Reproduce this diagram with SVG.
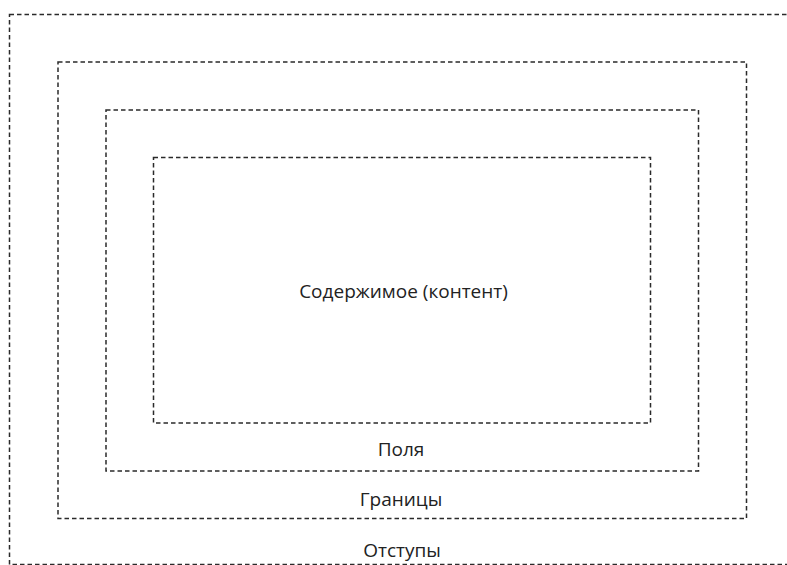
<svg xmlns="http://www.w3.org/2000/svg" width="787" height="565" viewBox="0 0 787 565">
<style>
.box{fill:none;stroke:#2a2a2a;stroke-width:1.5;stroke-dasharray:4.5 3}
.lbl{font-family:"Open Sans","Noto Sans",sans-serif;font-size:19px;fill:#222;text-anchor:middle}
</style>
<rect width="787" height="565" fill="#fff"/>
<g id="margin">
<rect class="box" x="9.5" y="14.5" width="790" height="550"/>
<text class="lbl" x="402" y="557">Отступы</text>
</g>
<g id="border">
<rect class="box" x="58" y="62" width="688.5" height="456.5"/>
<text class="lbl" x="401" y="506">Границы</text>
</g>
<g id="padding">
<rect class="box" x="106" y="110" width="592.5" height="361"/>
<text class="lbl" x="401" y="456">Поля</text>
</g>
<g id="content">
<rect class="box" x="153.5" y="157.5" width="497" height="265.5"/>
<text class="lbl" x="403.5" y="298">Содержимое (контент)</text>
</g>
<g id="connectors"/>
</svg>
